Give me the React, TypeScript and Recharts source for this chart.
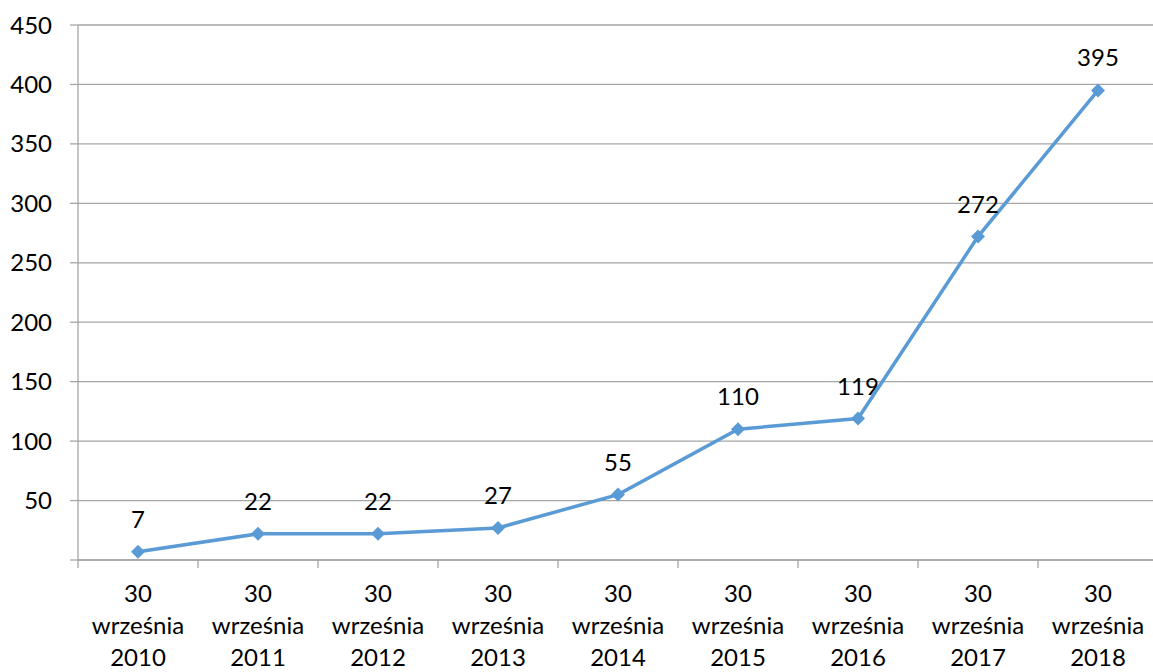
import { LineChart, Line, XAxis, YAxis, CartesianGrid, LabelList } from "recharts";

const dates = [
  "30 września 2010",
  "30 września 2011",
  "30 września 2012",
  "30 września 2013",
  "30 września 2014",
  "30 września 2015",
  "30 września 2016",
  "30 września 2017",
  "30 września 2018",
];
const counts = [7, 22, 22, 27, 55, 110, 119, 272, 395];
const yTicks = [0, 50, 100, 150, 200, 250, 300, 350, 400, 450];

const W = 1160;
const H = 672;
const Y_AXIS_W = 78;
const M = { top: 25, right: 2, bottom: 0, left: 0 };
const BAND = (W - M.left - M.right - Y_AXIS_W) / dates.length;
const FONT = "Lato, 'Open Sans', sans-serif";
const BLUE = "#5B9BD5";
const GRID = "#A6A6A6";

// category centres sit half a band into each slot of a 0..n number axis
const data = dates.map((d, i) => ({ pos: i + 0.5, date: d, value: counts[i] }));
const boundaries = dates.map((_, i) => i).concat(dates.length);

const DateTick = (props: any) => {
  const { x, y, payload } = props;
  const label = dates[payload.value];
  if (!label) return null;
  const parts = label.split(" ");
  const cx = x + BAND / 2;
  return (
    <text x={cx} y={y} textAnchor="middle" fontFamily={FONT} fontSize={24} fill="#000">
      {parts.map((p: string, i: number) => (
        <tspan key={i} x={cx} dy={i === 0 ? 34 : 32}>
          {p}
        </tspan>
      ))}
    </text>
  );
};

const Diamond = (props: any) => {
  const { cx, cy } = props;
  const r = 7;
  return (
    <polygon
      points={`${cx},${cy - r} ${cx + r},${cy} ${cx},${cy + r} ${cx - r},${cy}`}
      fill={BLUE}
    />
  );
};

export default function App() {
  return (
    <div
      style={{
        position: "fixed",
        left: 0,
        top: 0,
        width: 1153,
        height: H,
        overflow: "hidden",
        background: "#fff",
      }}
    >
      <LineChart width={W} height={H} data={data} margin={M}>
        <CartesianGrid horizontal vertical={false} stroke={GRID} strokeWidth={1.3} />
        <XAxis
          dataKey="pos"
          type="number"
          domain={[0, dates.length]}
          ticks={boundaries}
          interval={0}
          height={112}
          tick={<DateTick />}
          tickSize={8}
          tickMargin={0}
          stroke={GRID}
          strokeWidth={1.3}
        />
        <YAxis
          domain={[0, 450]}
          ticks={yTicks}
          interval={0}
          width={Y_AXIS_W}
          tickSize={8}
          tickMargin={18}
          tickFormatter={(v: number) => (v === 0 ? "" : String(v))}
          tick={{ fontFamily: FONT, fontSize: 24, fill: "#000" }}
          stroke={GRID}
          strokeWidth={1.3}
        />
        <Line
          dataKey="value"
          stroke={BLUE}
          strokeWidth={3.5}
          dot={<Diamond />}
          activeDot={false}
          isAnimationActive={false}
        >
          <LabelList
            dataKey="value"
            position="top"
            offset={24}
            fontFamily={FONT}
            fontSize={24}
            fill="#000"
          />
        </Line>
      </LineChart>
    </div>
  );
}
